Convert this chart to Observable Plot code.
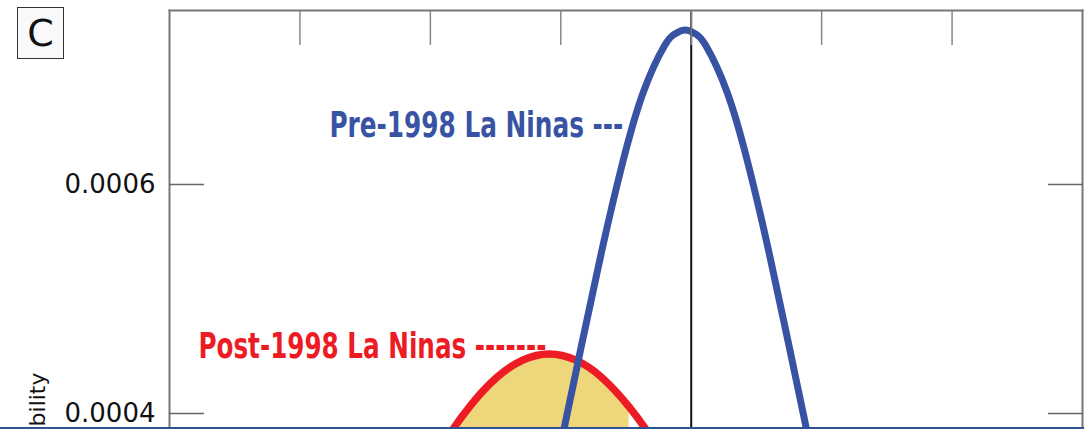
<!DOCTYPE html>
<html><head><meta charset="utf-8">
<script src="https://cdn.jsdelivr.net/npm/d3@7"></script>
<script src="https://cdn.jsdelivr.net/npm/@observablehq/plot@0.6"></script>
<style>
html,body{margin:0;padding:0;background:#fff;}
#wrap{position:relative;width:1084px;height:429px;overflow:hidden;}
#panel{position:absolute;left:17px;top:7px;width:45px;height:50px;border:1.5px solid #333;background:#f9f9fb;display:flex;align-items:center;justify-content:center;font-family:"DejaVu Sans",sans-serif;font-size:38px;line-height:1;color:#111;}
#bar{position:absolute;left:0;top:427px;width:1084px;height:2px;background:#2f5392;}
</style></head>
<body><div id="wrap"><div id="chart"></div><div id="panel">C</div><div id="bar"></div></div>
<script>
// Pre-1998 La Ninas density curve (blue)
const preX = [-583, -503, -423, -343, -263, -183, -103, -63, -23, 17, 57, 137, 217, 297, 377, 457, 537];
const preY = [0.000289, 0.000370, 0.000457, 0.000542, 0.000619, 0.000681, 0.000721, 0.0007315, 0.000735, 0.0007315, 0.000721, 0.000681, 0.000619, 0.000542, 0.000457, 0.000370, 0.000289];
// Post-1998 La Ninas density curve (red)
const postX = [-1144, -1044, -944, -844, -744, -644, -544, -444, -344, -238, -144, -44, 56];
const postY = [0.000299, 0.000339, 0.000376, 0.0004075, 0.0004317, 0.0004468, 0.000452, 0.0004468, 0.0004317, 0.0004058, 0.000376, 0.000339, 0.000299];
const fillLimit = -238;           // shaded part of the post-1998 curve ends here
const refLine = [0];              // vertical reference line
const xTicks = [-1500, -1000, -500, 0, 500, 1000];
const yTicks = [0.0004, 0.0006];
const xDomain = [-2000, 1500];
const yDomain = [0.000386, 0.000752];
const yTitle = ["Probability"];
const labelTexts = ["Pre-1998 La Ninas ---", "Post-1998 La Ninas -------"];
const labelX = [-260, -555];
const labelY = [0.000651, 0.000458];
const labelColors = ["#3953a4", "#ed1c24"];

const pre = preX.map((x, i) => ({x, y: preY[i]}));
const post = postX.map((x, i) => ({x, y: postY[i]}));
const shaded = post.filter(d => d.x <= fillLimit);
const labels = labelTexts.map((t, i) => ({t, x: labelX[i], y: labelY[i], c: labelColors[i]}));

const chart = Plot.plot({
  width: 1084, height: 429,
  marginLeft: 169, marginRight: 2, marginTop: 10, marginBottom: 0,
  x: {domain: xDomain},
  y: {domain: yDomain},
  style: {background: "transparent"},
  marks: [
    Plot.areaY(shaded, {x: "x", y: "y", fill: "#eed77a", curve: "natural", clip: true}),
    Plot.lineY(post, {x: "x", y: "y", stroke: "#ed1c24", strokeWidth: 7.5, curve: "natural", clip: true}),
    Plot.lineY(pre, {x: "x", y: "y", stroke: "#3953a4", strokeWidth: 7, curve: "natural", clip: true}),
    Plot.ruleX(refLine, {stroke: "#111", strokeWidth: 2}),
    Plot.frame({anchor: "left", stroke: "#777", strokeWidth: 2}),
    Plot.frame({anchor: "top", stroke: "#777", strokeWidth: 2}),
    Plot.frame({anchor: "right", stroke: "#777", strokeWidth: 2}),
    Plot.axisX({ticks: xTicks, anchor: "top", tickSize: -34, tickFormat: () => "", stroke: "#888", strokeWidth: 1.5, label: null}),
    Plot.axisY({ticks: yTicks, anchor: "left", tickSize: -35, tickFormat: () => "", stroke: "#666", strokeWidth: 1.5, label: null}),
    Plot.axisY({ticks: yTicks, anchor: "right", tickSize: -35, tickFormat: () => "", stroke: "#666", strokeWidth: 1.5, label: null}),
    Plot.axisY({ticks: yTicks, anchor: "left", tickSize: 0, tickPadding: 14, tickFormat: d => d.toFixed(4), fontSize: 26, fontFamily: "DejaVu Sans", fill: "#111", label: null}),
    Plot.text(yTitle, {text: d => d, frameAnchor: "bottom-left", rotate: -90, textAnchor: "end", lineAnchor: "bottom", dx: -125, dy: -57, fontSize: 22, fontFamily: "DejaVu Sans", fill: "#111"}),
    Plot.text(labels, {x: "x", y: "y", text: "t", fill: "c", textAnchor: "end", fontSize: 35, fontWeight: "bold", fontFamily: "'Liberation Sans Narrow', 'DejaVu Sans Condensed', sans-serif"})
  ]
});
document.getElementById("chart").appendChild(chart);
const widths = {[labelTexts[0]]: 294, [labelTexts[1]]: 348};
chart.querySelectorAll("text").forEach(t => {
  const w = widths[t.textContent];
  if (w) { t.setAttribute("textLength", w); t.setAttribute("lengthAdjust", "spacingAndGlyphs"); t.style.fontStretch = "condensed"; }
});
</script>
</body></html>
